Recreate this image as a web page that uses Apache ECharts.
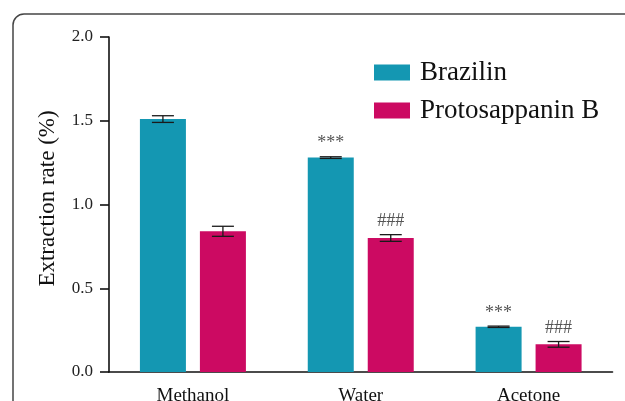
<!DOCTYPE html>
<html>
<head>
<meta charset="utf-8">
<script src="https://cdn.jsdelivr.net/npm/echarts@6/dist/echarts.min.js"></script>
<style>
  html, body { margin: 0; padding: 0; background: #ffffff; }
  #chart { width: 625px; height: 401px; }
</style>
</head>
<body>
<div id="chart"></div>
<script>
// Extraction rate (%) of brazilin and protosappanin B by solvent
const solvents = ['Methanol', 'Water', 'Acetone'];
const brazilin = [1.51, 1.28, 0.27];
const brazilinSd = [0.02, 0.005, 0.004];
const protoB = [0.84, 0.80, 0.165];
const protoBSd = [0.03, 0.02, 0.017];
const brazilinMarks = ['', '***', '***'];
const protoBMarks = ['', '###', '###'];
const yTicks = [0, 0.5, 1.0, 1.5, 2.0];

const FONT = "'Liberation Serif', 'Times New Roman', serif";
const BAR_W = 46;
const BAR_GAP = 14;

// Error bars with significance marks drawn above each cap
function errorSeries(values, sds, marks, side) {
  return {
    type: 'custom',
    z: 5,
    data: values.map((v, i) => [i, v, sds[i], marks[i]]),
    encode: { x: 0, y: 1 },
    renderItem: function (params, api) {
      const i = api.value(0), v = api.value(1), sd = api.value(2);
      const mark = marks[i];
      const c = api.coord([i, v]);
      const x = c[0] + side * (BAR_W + BAR_GAP) / 2;
      const yHi = api.coord([i, v + sd])[1];
      const yLo = api.coord([i, v - sd])[1];
      const cap = 11;
      const st = { stroke: '#1a1a1a', lineWidth: 1.3 };
      const children = [
        { type: 'line', shape: { x1: x, y1: yHi, x2: x, y2: yLo }, style: st },
        { type: 'line', shape: { x1: x - cap, y1: yHi, x2: x + cap, y2: yHi }, style: st },
        { type: 'line', shape: { x1: x - cap, y1: yLo, x2: x + cap, y2: yLo }, style: st }
      ];
      if (mark) {
        children.push({
          type: 'text',
          style: {
            text: mark, x: x, y: yHi - 4,
            align: 'center', verticalAlign: 'bottom',
            font: '18px ' + FONT, fill: '#555555'
          }
        });
      }
      return { type: 'group', children: children };
    }
  };
}

const chart = echarts.init(document.getElementById('chart'), null, { renderer: 'canvas' });
chart.setOption({
  animation: false,
  backgroundColor: '#ffffff',
  graphic: [{
    type: 'rect',
    shape: { x: 13, y: 14, width: 700, height: 500, r: 11 },
    style: { fill: 'none', stroke: '#454545', lineWidth: 1.5 },
    z: -1
  }],
  grid: {
    left: 109, right: 12.5, top: 37, bottom: 29,
    containLabel: false,
    outerBoundsMode: 'none'
  },
  legend: {
    orient: 'vertical',
    left: 374,
    top: 59,
    padding: 0,
    itemWidth: 36,
    itemHeight: 16,
    itemGap: 11,
    icon: 'rect',
    textStyle: { fontFamily: FONT, fontSize: 27, color: '#111111', padding: [0, 0, 0, 5] },
    data: ['Brazilin', 'Protosappanin B']
  },
  xAxis: {
    type: 'category',
    data: solvents,
    axisLine: { lineStyle: { color: '#111111', width: 1.6 } },
    axisTick: { alignWithLabel: true, length: 9, lineStyle: { color: '#111111', width: 1.6 } },
    axisLabel: { fontFamily: FONT, fontSize: 19, color: '#111111', margin: 15 }
  },
  yAxis: {
    type: 'value',
    min: yTicks[0],
    max: yTicks[yTicks.length - 1],
    interval: 0.5,
    name: 'Extraction rate (%)',
    nameLocation: 'middle',
    nameGap: 50,
    nameTextStyle: { fontFamily: FONT, fontSize: 23, color: '#111111', padding: [0, 0, 0, 12] },
    axisLine: { show: true, lineStyle: { color: '#111111', width: 1.6 } },
    axisTick: { show: true, length: 9, lineStyle: { color: '#111111', width: 1.6 } },
    splitLine: { show: false },
    axisLabel: {
      fontFamily: FONT, fontSize: 17, color: '#222222', margin: 16,
      formatter: v => v.toFixed(1)
    }
  },
  series: [
    {
      name: 'Brazilin',
      type: 'bar',
      data: brazilin,
      barWidth: BAR_W,
      barGap: (BAR_GAP / BAR_W * 100).toFixed(1) + '%',
      itemStyle: { color: '#1497b2' }
    },
    {
      name: 'Protosappanin B',
      type: 'bar',
      data: protoB,
      barWidth: BAR_W,
      itemStyle: { color: '#cc0a62' }
    },
    errorSeries(brazilin, brazilinSd, brazilinMarks, -1),
    errorSeries(protoB, protoBSd, protoBMarks, 1)
  ]
});
</script>
</body>
</html>
